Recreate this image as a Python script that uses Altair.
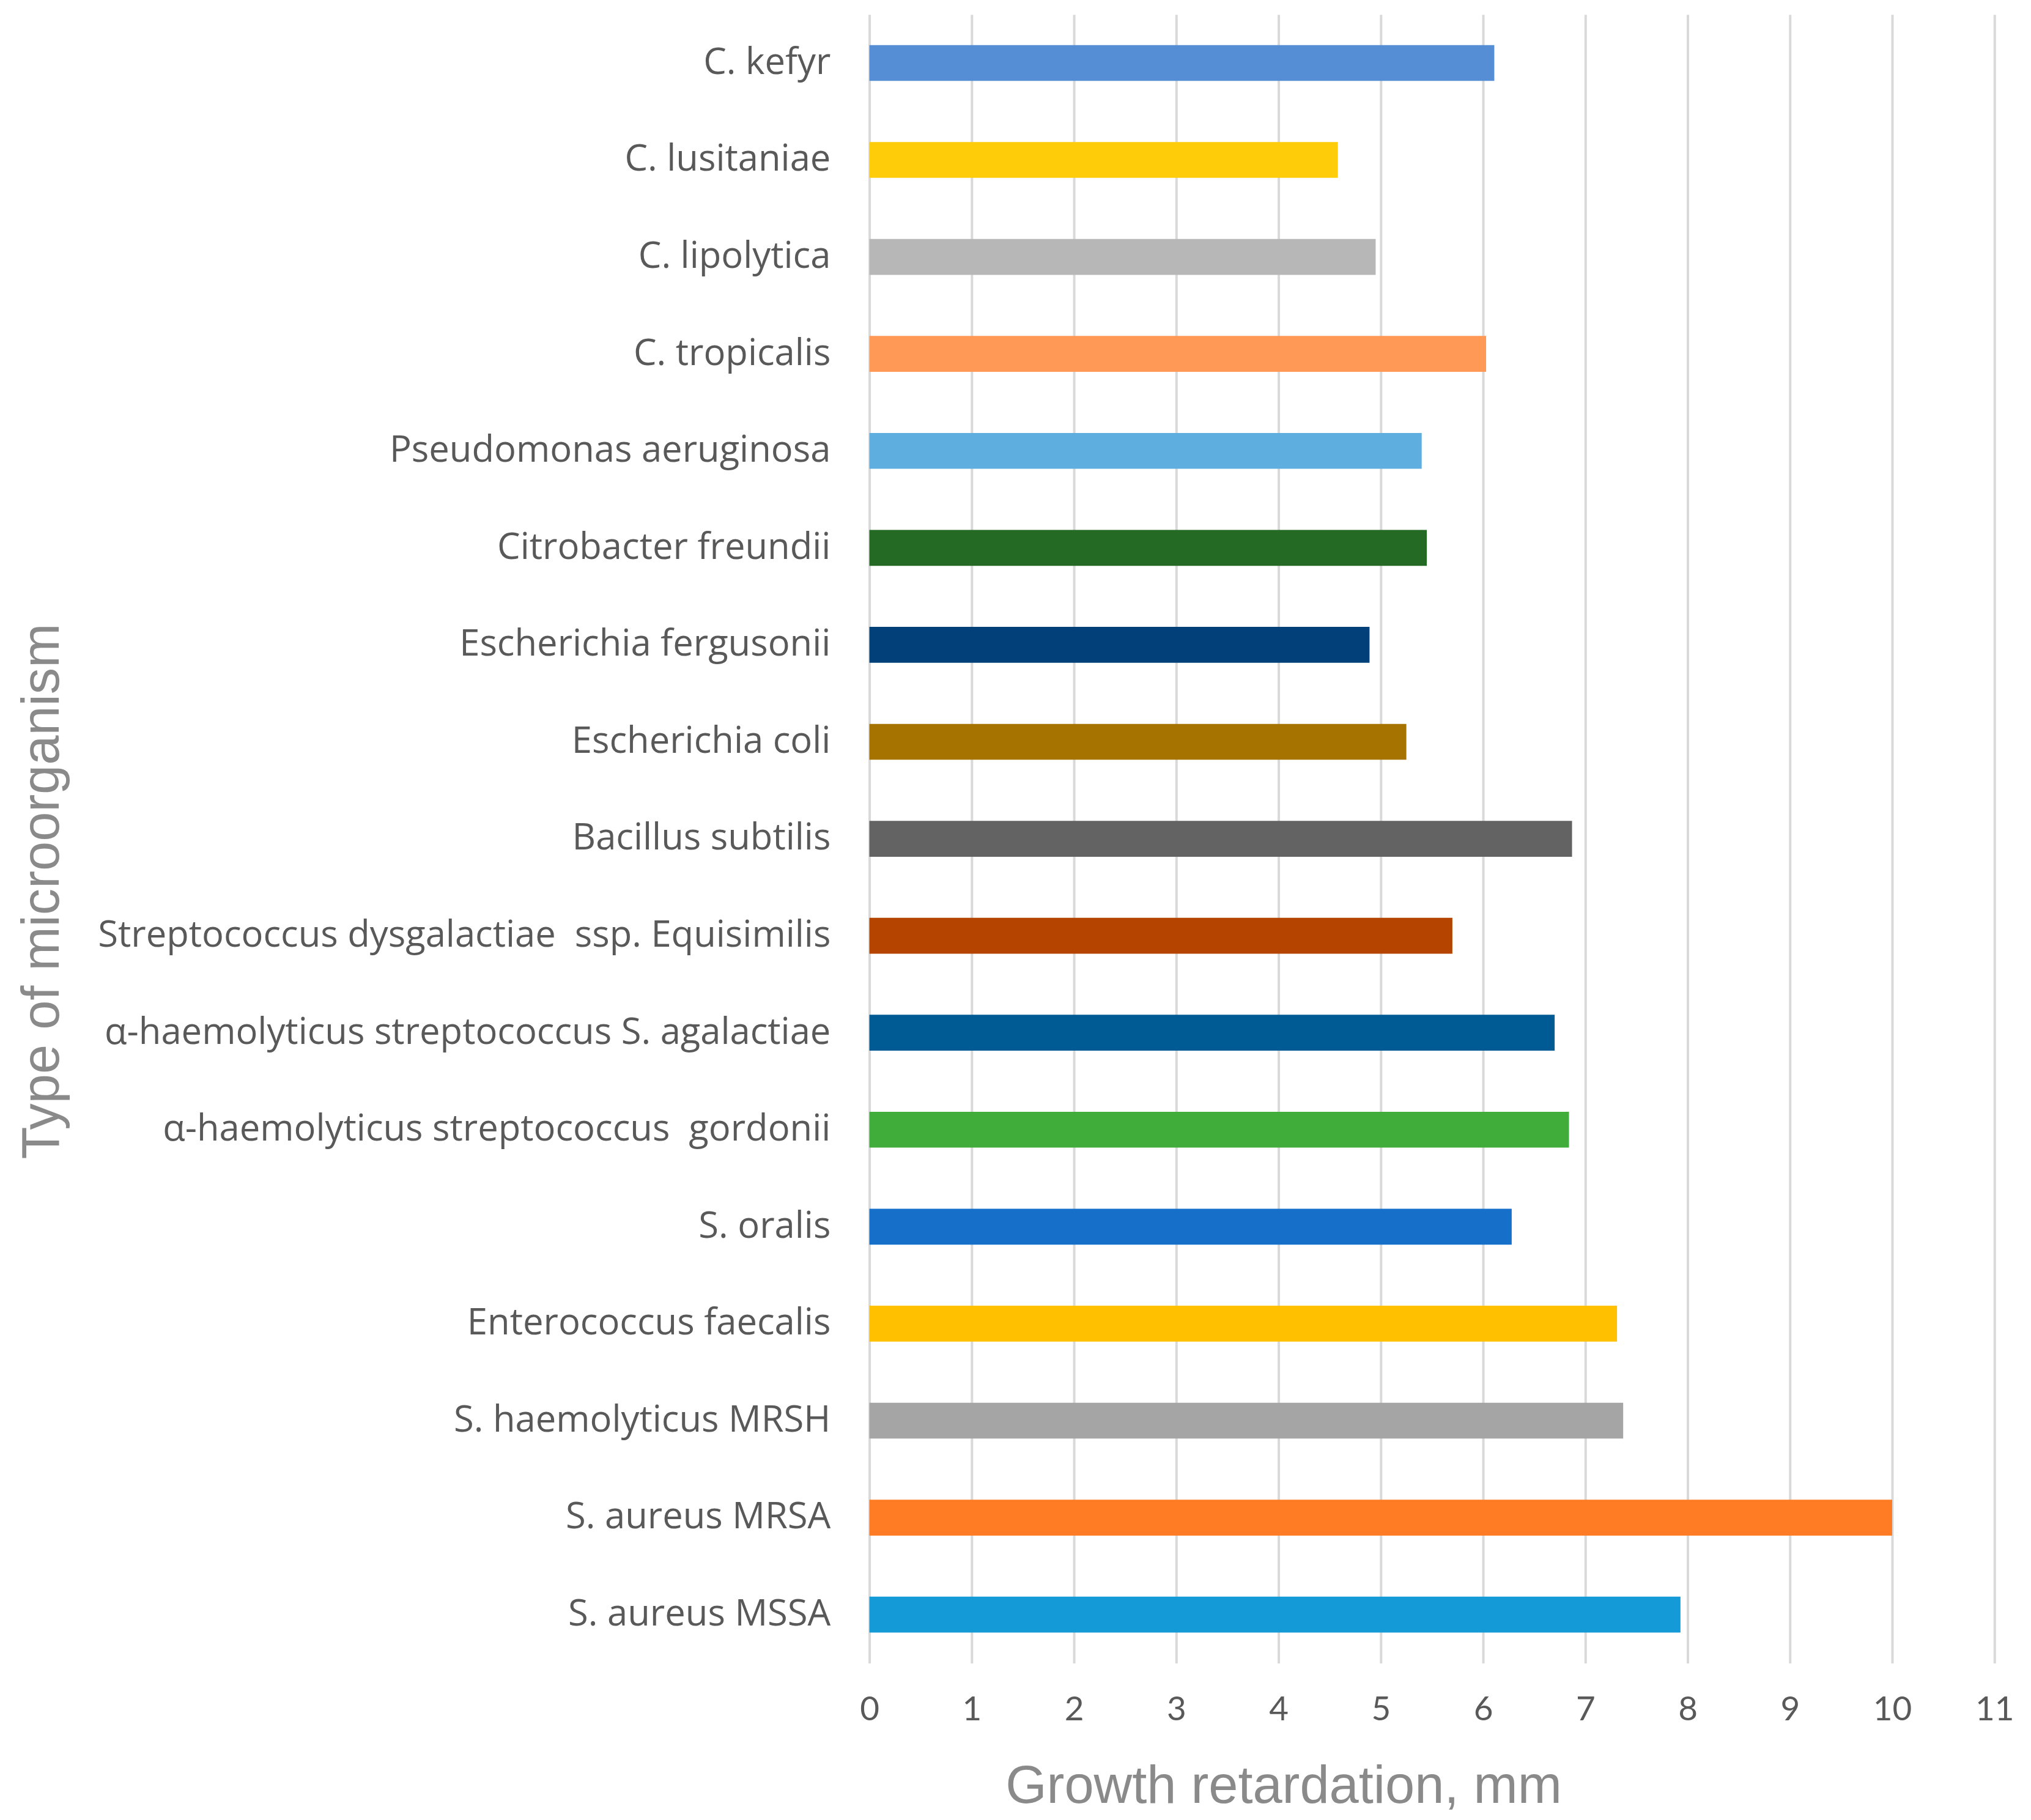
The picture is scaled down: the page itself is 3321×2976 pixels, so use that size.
import altair as alt
import pandas as pd

# categories, top to bottom as in the figure
organismos = [
    "C. kefyr",
    "C. lusitaniae",
    "C. lipolytica",
    "C. tropicalis",
    "Pseudomonas aeruginosa",
    "Citrobacter freundii",
    "Escherichia fergusonii",
    "Escherichia coli\u00a0",
    "Bacillus subtilis",
    "Streptococcus dysgalactiae\u00a0 ssp. Equisimilis",
    "α-haemolyticus streptococcus S. agalactiae",
    "α-haemolyticus streptococcus\u00a0 gordonii",
    "S. oralis",
    "Enterococcus faecalis",
    "S. haemolyticus MRSH",
    "S. aureus MRSA",
    "S. aureus MSSA",
]

retardo_mm = [6.11, 4.58, 4.95, 6.03, 5.40, 5.45, 4.89, 5.25, 6.87,
              5.70, 6.70, 6.84, 6.28, 7.31, 7.37, 10.0, 7.93]

cores = ["#558ED5", "#FFCC0A", "#B7B7B7", "#FF9955", "#5EAEDF", "#246924",
         "#02407A", "#A67300", "#636363", "#B54400", "#005A94", "#40AD3B",
         "#1670C9", "#FFC000", "#A5A5A5", "#FF7C24", "#149BD7"]

ticks_x = list(range(0, 12))

df = pd.DataFrame({"organismo": organismos, "retardo": retardo_mm})

cor_rotulo = "#595959"
cor_titulo = "#8a8a8a"
cor_grade = "#d9d9d9"

chart = alt.Chart(df).mark_bar().encode(
    y=alt.Y(
        "organismo:N",
        sort=organismos,
        scale=alt.Scale(paddingInner=0.63, paddingOuter=0.315),
        axis=alt.Axis(
            title="Type of microorganism",
            titleFont="Liberation Sans",
            titleFontSize=87,
            titleFontWeight="normal",
            titleColor=cor_titulo,
            titleX=-1314,
            titleY=1440,
            labelFont="Open Sans",
            labelFontSize=60,
            labelColor=cor_rotulo,
            labelPadding=64,
            labelLimit=2000,
            ticks=False,
            domain=False,
            grid=False,
        ),
    ),
    x=alt.X(
        "retardo:Q",
        scale=alt.Scale(domain=[0, 11], nice=False),
        axis=alt.Axis(
            title="Growth retardation, mm",
            titleFont="Liberation Sans",
            titleFontSize=87,
            titleFontWeight="normal",
            titleColor=cor_titulo,
            titlePadding=56,
            titleX=680,
            labelFont="Lato",
            labelFontSize=55,
            labelColor=cor_rotulo,
            labelPadding=50,
            labelFlush=False,
            values=ticks_x,
            format="d",
            ticks=False,
            domain=False,
            grid=True,
            gridColor=cor_grade,
            gridWidth=4,
        ),
    ),
    color=alt.Color(
        "organismo:N",
        scale=alt.Scale(domain=organismos, range=cores),
        legend=None,
    ),
).properties(
    width=1848,
    height=2708,
    background="white",
    padding={"left": 18, "top": 9, "right": 20, "bottom": 10},
).configure_view(
    stroke=None
)

chart.save("out.html", embed_options={"renderer": "svg", "actions": False})
